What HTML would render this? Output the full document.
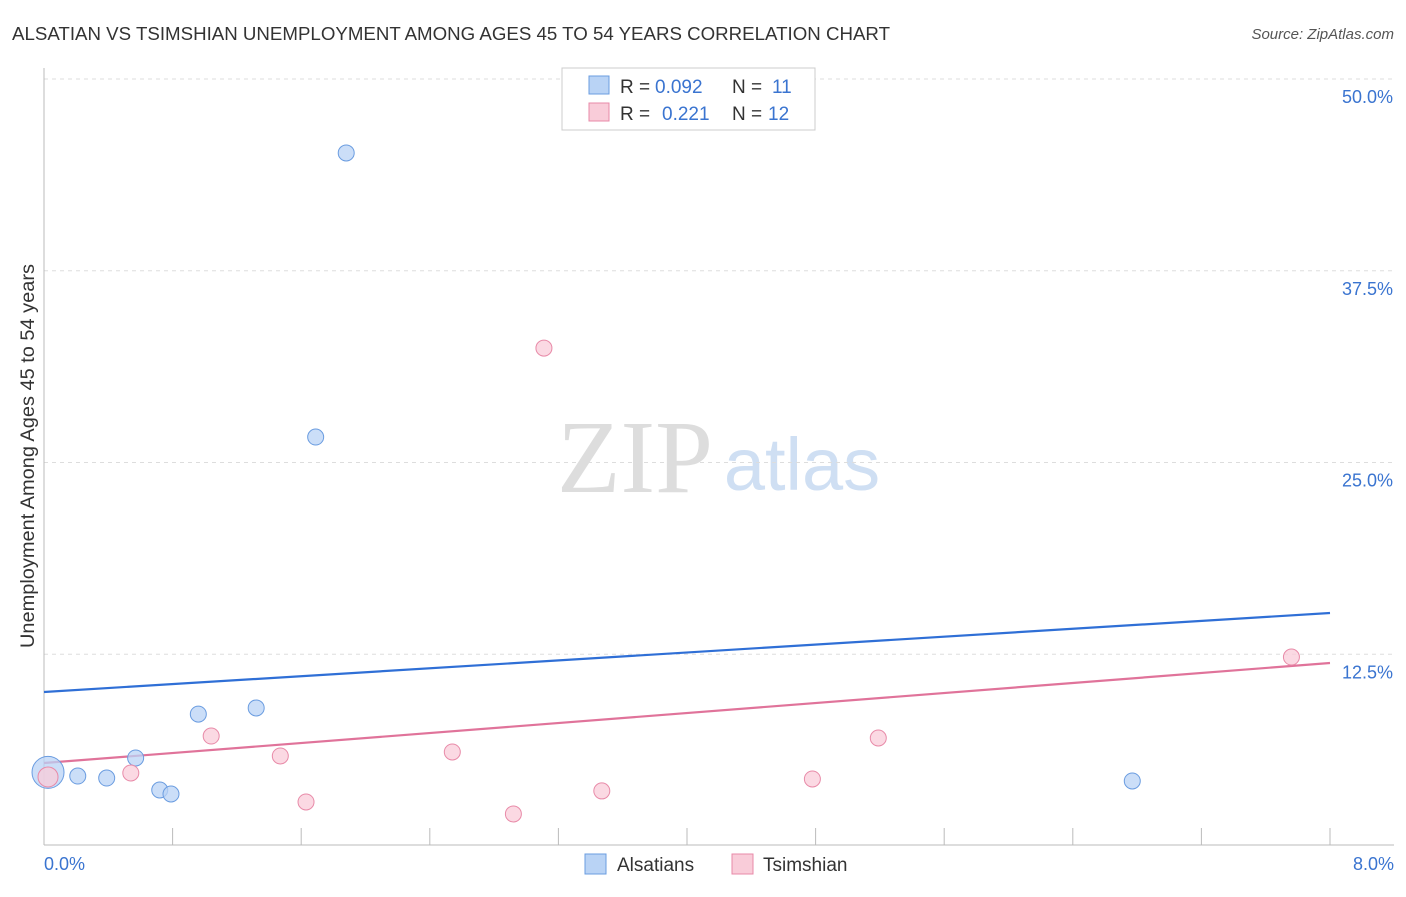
<!DOCTYPE html>
<html><head><meta charset="utf-8"><style>
body{margin:0;background:#fff;font-family:"Liberation Sans",sans-serif;}
</style></head><body>
<svg width="1406" height="892" xmlns="http://www.w3.org/2000/svg" font-family="Liberation Sans, sans-serif">
<text x="12" y="40" font-size="18" fill="#333" textLength="878" lengthAdjust="spacingAndGlyphs">ALSATIAN VS TSIMSHIAN UNEMPLOYMENT AMONG AGES 45 TO 54 YEARS CORRELATION CHART</text>
<text x="1394" y="39" font-size="15" fill="#555" font-style="italic" text-anchor="end">Source: ZipAtlas.com</text>
<text x="635" y="492" font-size="104" fill="#ddd" font-family="Liberation Serif, serif" text-anchor="middle">ZIP</text>
<text x="802" y="490" font-size="74" fill="#cfdff3" text-anchor="middle">atlas</text>
<g id="grid"></g>
<line x1="44" y1="68" x2="44" y2="845" stroke="#bbb"/>
<line x1="44" y1="845" x2="1394" y2="845" stroke="#bbb"/>
<g id="xticks"></g>
<text x="34" y="456" font-size="19" fill="#333" text-anchor="middle" textLength="384" lengthAdjust="spacingAndGlyphs" transform="rotate(-90 34 456)">Unemployment Among Ages 45 to 54 years</text>
<text x="44" y="870" font-size="18" fill="#3a74d0">0.0%</text>
<text x="1394" y="870" font-size="18" fill="#3a74d0" text-anchor="end">8.0%</text>
<g id="lines"></g>
<g id="points"></g>
<g>
<rect x="562" y="68" width="253" height="62" fill="#fff" stroke="#ccc"/>
<rect x="589" y="76" width="20" height="18" fill="#b9d3f5" stroke="#6a9ce0"/>
<text x="620" y="93" font-size="19" fill="#333">R =</text>
<text x="655" y="93" font-size="19" fill="#3a74d0">0.092</text>
<text x="732" y="93" font-size="19" fill="#333">N =</text>
<text x="772" y="93" font-size="19" fill="#3a74d0">11</text>
<rect x="589" y="103" width="20" height="18" fill="#f9ccd9" stroke="#e88aa8"/>
<text x="620" y="120" font-size="19" fill="#333">R =</text>
<text x="662" y="120" font-size="19" fill="#3a74d0">0.221</text>
<text x="732" y="120" font-size="19" fill="#333">N =</text>
<text x="768" y="120" font-size="19" fill="#3a74d0">12</text>
</g>
<g>
<rect x="585" y="854" width="21" height="20" fill="#b9d3f5" stroke="#6a9ce0"/>
<text x="617" y="871" font-size="19" fill="#333">Alsatians</text>
<rect x="732" y="854" width="21" height="20" fill="#f9ccd9" stroke="#e88aa8"/>
<text x="763" y="871" font-size="19" fill="#333">Tsimshian</text>
</g>
</svg>
<script>
const yTicks=[12.5,25,37.5,50];
const yTickLabels=["12.5%","25.0%","37.5%","50.0%"];
const xTickVals=[0,0.8,1.6,2.4,3.2,4,4.8,5.6,6.4,7.2,8];
const alsX=[0.025,0.21,0.39,0.57,0.72,0.79,0.96,1.32,1.69,1.88,6.77];
const alsY=[4.8,4.56,4.43,5.74,3.65,3.39,8.6,9.0,26.66,45.18,4.24];
const tsiX=[0.025,0.54,1.04,1.47,1.63,2.54,2.92,3.11,3.47,4.78,5.19,7.76];
const tsiY=[4.5,4.76,7.17,5.87,2.87,6.13,2.09,32.46,3.59,4.37,7.04,12.32];
const alsTrend=[10.04,15.19];
const tsiTrend=[5.41,11.93];
const NS="http://www.w3.org/2000/svg";
const xs=v=>44+v*160.75, ys=v=>846-v*15.34;
function mk(t,a,p){const e=document.createElementNS(NS,t);for(const k in a)e.setAttribute(k,a[k]);document.getElementById(p).appendChild(e);return e;}
yTicks.forEach((t,i)=>{
 const l=mk('line',{x1:44,x2:1394,y1:ys(t),y2:ys(t),stroke:'#ddd','stroke-dasharray':'4 4'},'grid');
 
 
 const tx=mk('text',{x:1393,y:ys(t)+24,'font-size':18,fill:'#3a74d0','text-anchor':'end'},'grid');
 tx.textContent=yTickLabels[i];
 
 
});
xTickVals.forEach(v=>{
 const l=mk('line',{x1:xs(v),x2:xs(v),y1:828,y2:845,stroke:'#bbb'},'xticks');
 
 
});
const b=mk('line',{x1:xs(0),x2:xs(8),y1:ys(alsTrend[0]),y2:ys(alsTrend[1]),stroke:'#2f6fd6','stroke-width':2.2},'lines');


const p=mk('line',{x1:xs(0),x2:xs(8),y1:ys(tsiTrend[0]),y2:ys(tsiTrend[1]),stroke:'#e0739a','stroke-width':2.2},'lines');


alsX.forEach((x,i)=>{
 const c=mk('circle',{cx:xs(x),cy:ys(alsY[i]),r:i==0?16:8,fill:'#b9d3f5','fill-opacity':0.75,stroke:'#6a9ce0'},'points');
 
 
});
tsiX.forEach((x,i)=>{
 const c=mk('circle',{cx:xs(x),cy:ys(tsiY[i]),r:i==0?10:8,fill:'#f9ccd9','fill-opacity':0.75,stroke:'#e88aa8'},'points');
 
 
});
</script>
</body></html>
